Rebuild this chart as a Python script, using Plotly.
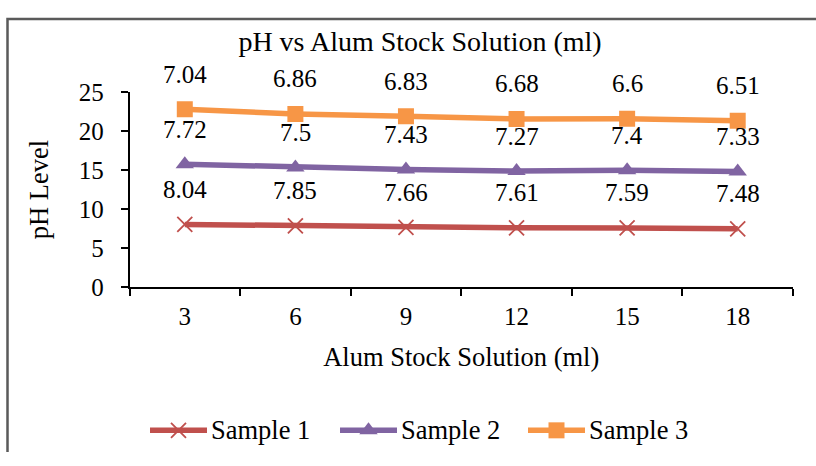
import plotly.graph_objects as go
import numpy as np

categories = ["3", "6", "9", "12", "15", "18"]
sample1 = [8.04, 7.85, 7.66, 7.61, 7.59, 7.48]
sample2 = [7.72, 7.5, 7.43, 7.27, 7.4, 7.33]
sample3 = [7.04, 6.86, 6.83, 6.68, 6.6, 6.51]
names = ["Sample 1", "Sample 2", "Sample 3"]
colors = ["#C0504D", "#8064A2", "#F79646"]
symbols = ["x-thin", "triangle-up", "square"]
msizes = [15, 16, 16]

series = [sample1, sample2, sample3]
stacked = np.cumsum(np.array(series), axis=0)

W, H = 816, 466
X0, X1, Y0, Y1 = 129.5, 793, 84, 291  # plot area in pixels
FONT = "Liberation Serif"

def mk(i):
    m = dict(symbol=symbols[i], size=msizes[i], color=colors[i])
    if symbols[i] == "x-thin":
        m["line"] = dict(color=colors[i], width=1.8)
    return m

fig = go.Figure()
for i, (name, vals) in enumerate(zip(names, series)):
    fig.add_trace(go.Scatter(
        x=categories, y=stacked[i], name=name, mode="lines+markers",
        line=dict(color=colors[i], width=5.5), marker=mk(i), showlegend=False,
    ))
    for k, (yv, v) in enumerate(zip(stacked[i], vals)):
        fig.add_annotation(x=k, y=yv, xref="x", yref="y", text=f"{v:g}", showarrow=False,
                           yshift=35, font=dict(family=FONT, size=25, color="black"))

# custom legend drawn on a pixel-coordinate overlay axis
leg_y = 443
leg_x = [150, 340, 528]
for i, name in enumerate(names):
    xs = [leg_x[i], leg_x[i] + 57]
    fig.add_trace(go.Scatter(x=xs, y=[leg_y, leg_y], xaxis="x2", yaxis="y2", mode="lines",
                             line=dict(color=colors[i], width=5.5), showlegend=False,
                             hoverinfo="skip"))
    fig.add_trace(go.Scatter(x=[leg_x[i] + 28.5], y=[leg_y], xaxis="x2", yaxis="y2",
                             mode="markers", marker=mk(i), showlegend=False, hoverinfo="skip"))
    fig.add_annotation(x=leg_x[i] + 59, y=leg_y, xref="x2", yref="y2", text=name,
                       showarrow=False, xanchor="left", yanchor="middle",
                       font=dict(family=FONT, size=26.5, color="black"))

# outer chart frame (top and left edges visible)
fig.add_trace(go.Scatter(x=[7.5, 7.5, 820], y=[470, 6.5, 6.5], xaxis="x2", yaxis="y2",
                         mode="lines", line=dict(color="#5a5a5a", width=2.5),
                         showlegend=False, hoverinfo="skip", cliponaxis=False))

fig.update_layout(
    width=W, height=H,
    margin=dict(l=0, r=0, t=0, b=0),
    paper_bgcolor="white", plot_bgcolor="rgba(0,0,0,0)",
    font=dict(family=FONT, size=25, color="black"),
    title=dict(text="pH vs Alum Stock Solution (ml)", x=420 / W, xanchor="center",
               y=1 - 41 / H, yanchor="middle", font=dict(family=FONT, size=28)),
    xaxis=dict(type="category", range=[-0.5, 5.5], domain=[X0 / W, X1 / W], anchor="y",
               tickson="boundaries", ticks="outside", ticklen=7,
               tickcolor="black", tickwidth=1.5, showline=True, linecolor="black",
               linewidth=1.5, showgrid=False, zeroline=False, fixedrange=True,
               ticklabelstandoff=6,
               title=dict(text="Alum Stock Solution (ml)", standoff=19, font=dict(size=26.5)),
               tickfont=dict(family=FONT, size=25)),
    yaxis=dict(range=[0, 25], dtick=5, domain=[1 - Y1 / H, 1 - Y0 / H], anchor="x",
               ticks="outside", ticklen=7, tickcolor="black", tickwidth=1.5,
               showline=True, linecolor="black", linewidth=1.5, showgrid=False, zeroline=False,
               ticklabelstandoff=12, fixedrange=True,
               title=dict(text="pH Level", standoff=22, font=dict(size=26.5)),
               tickfont=dict(family=FONT, size=25)),
    xaxis2=dict(range=[0, W], domain=[0, 1], anchor="y2", visible=False, fixedrange=True),
    yaxis2=dict(range=[H, 0], domain=[0, 1], anchor="x2", visible=False, fixedrange=True),
    showlegend=False,
)

fig.write_html("out.html", config={"displayModeBar": False},
               post_script="document.body.style.margin='0px';document.body.style.overflow='hidden';")
